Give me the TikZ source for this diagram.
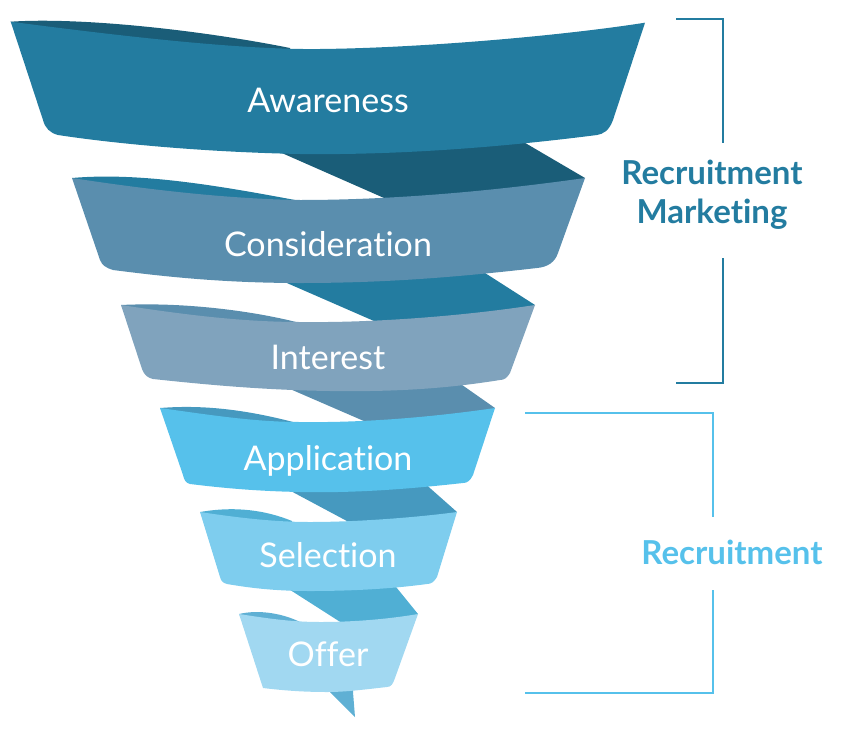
\documentclass[tikz,border=0pt]{standalone}
\usepackage{fontspec}
\setmainfont{Lato}[Ligatures={NoCommon,NoContextual}]
\usepackage{tikz}
\usetikzlibrary{positioning}
\definecolor{awarenesscolor}{RGB}{35, 124, 160}
\definecolor{awarenessback}{RGB}{26, 93, 120}
\definecolor{considercolor}{RGB}{90, 142, 174}
\definecolor{interestcolor}{RGB}{128, 163, 189}
\definecolor{applycolor}{RGB}{86, 193, 235}
\definecolor{applyback}{RGB}{70, 153, 191}
\definecolor{selectcolor}{RGB}{126, 205, 238}
\definecolor{selectback}{RGB}{80, 175, 212}
\definecolor{offercolor}{RGB}{161, 216, 241}
\definecolor{offerback}{RGB}{95, 176, 212}

\begin{document}
\begin{tikzpicture}[
    x=1pt, y=-1pt,
    label/.style={text=white, font=\fontsize{34}{40}\selectfont, anchor=base},
    heading/.style={font=\fontsize{33}{40}\selectfont\bfseries, anchor=base},
    bracket/.style={line width=2pt},
]
    \useasboundingbox (0,0) rectangle (845,736);

    % Back of the ribbon: connectors
    \fill[awarenessback] (275,150) -- (400,205) -- (560,200) -- (585,178) -- (515,137) -- cycle;
    \fill[awarenesscolor] (280,280) -- (390,328) -- (515,320) -- (535,305) -- (485,273) -- cycle;
    \fill[considercolor] (290,389) -- (380,428) -- (475,420) -- (495,408) -- (455,380) -- cycle;
    \fill[applyback] (287,489) -- (360,528) -- (440,522) -- (457,512) -- (422,481) -- cycle;
    \fill[selectback] (284,586) -- (345,625) -- (410,622) -- (418,614) -- (392,582) -- cycle;
    \fill[offerback] (328,685) -- (330,692) .. controls (340,702) and (348,710) .. (355,717) -- (353,692) -- (353,685) -- cycle;

    % Back of the ribbon: slivers
    \fill[awarenessback] (10.7,21.7) .. controls (80,17) and (200,30) .. (290,48) -- (290,60) -- (25,40) -- cycle;
    \fill[awarenesscolor] (72,178) .. controls (140,172) and (220,186) .. (295,200) -- (295,210) -- (85,195) -- cycle;
    \fill[considercolor] (121,305) .. controls (180,302) and (250,310) .. (300,323) -- (300,332) -- (132,322) -- cycle;
    \fill[applyback] (160,408) .. controls (210,404) and (255,412) .. (297,423) -- (297,432) -- (170,425) -- cycle;
    \fill[selectback] (200,512) .. controls (235,506) and (265,510) .. (292,521) -- (292,530) -- (210,528) -- cycle;
    \fill[offerback] (239,614) .. controls (260,609) and (285,614) .. (302,623) -- (302,632) -- (248,630) -- cycle;

    % Front faces
    \fill[awarenesscolor] (10.7,21.7) .. controls (120,36) and (240,50) .. (320,49)
        .. controls (420,48) and (560,36) .. (645,22.7) -- (613,120)
        .. controls (609,131) and (603,134) .. (597,135)
        .. controls (480,150) and (380,155) .. (300,154)
        .. controls (200,152) and (110,143) .. (58,135)
        .. controls (50,133) and (45,128) .. (43,120) -- cycle;
    \fill[considercolor] (72,178) .. controls (150,190) and (230,199) .. (300,200)
        .. controls (400,200) and (500,190) .. (585,178) -- (558,253)
        .. controls (555,262) and (548,267) .. (537,268)
        .. controls (450,278) and (380,283) .. (300,283)
        .. controls (220,283) and (160,276) .. (113,270)
        .. controls (106,268) and (102,265) .. (100,260) -- cycle;
    \fill[interestcolor] (121,305) .. controls (180,314) and (240,322) .. (300,322)
        .. controls (380,323) and (470,315) .. (535,305) -- (510,373)
        .. controls (507,378) and (504,380) .. (500,380)
        .. controls (450,388) and (400,392) .. (330,391)
        .. controls (260,390) and (200,384) .. (153,379)
        .. controls (148,378) and (144,375) .. (142,369) -- cycle;
    \fill[applycolor] (160,408) .. controls (210,415) and (255,422) .. (300,422)
        .. controls (370,423) and (440,416) .. (495,408) -- (473,475)
        .. controls (470,481) and (467,483) .. (463,483)
        .. controls (400,490) and (350,493) .. (300,492)
        .. controls (250,491) and (215,487) .. (190,484)
        .. controls (186,483) and (184,480) .. (183,475) -- cycle;
    \fill[selectcolor] (200,512) .. controls (240,518) and (275,522) .. (310,522)
        .. controls (360,522) and (420,517) .. (457,512) -- (437,577)
        .. controls (434,582) and (431,584) .. (427,584)
        .. controls (390,589) and (350,591) .. (310,591)
        .. controls (270,591) and (245,587) .. (227,584)
        .. controls (223,583) and (221,581) .. (220,577) -- cycle;
    \fill[offercolor] (239,614) .. controls (265,618) and (290,622) .. (320,622)
        .. controls (360,622) and (395,618) .. (418,614) -- (395,678)
        .. controls (393,684) and (391,687) .. (387,687)
        .. controls (360,690) and (345,692) .. (327,692)
        .. controls (300,692) and (280,690) .. (263,688) -- cycle;

    % Stage labels
    \node[label] (awareness) at (328,112) {Awareness};
    \node[label] (consideration) at (328,256) {Consideration};
    \node[label] (interest) at (328,369) {Interest};
    \node[label] (application) at (328,470) {Application};
    \node[label] (selection) at (328,567) {Selection};
    \node[label] (offer) at (328,666) {Offer};

    % Group labels
    \node[heading, text=awarenesscolor] (marketing1) at (712,184) {Recruitment};
    \node[heading, text=awarenesscolor] (marketing2) at (712,223) {Marketing};
    \node[heading, text=applycolor] (recruitment) at (732,564) {Recruitment};

    % Brackets
    \coordinate (mtop) at (676,19);
    \coordinate (mtopcorner) at (723,19);
    \coordinate (mupper) at (723,143);
    \coordinate (mlower) at (723,258);
    \coordinate (mbotcorner) at (723,383);
    \coordinate (mbot) at (676,383);
    \draw[bracket, awarenesscolor] (mtop) -- (mtopcorner) -- (mupper);
    \draw[bracket, awarenesscolor] (mlower) -- (mbotcorner) -- (mbot);

    \coordinate (rtop) at (525,413);
    \coordinate (rtopcorner) at (713,413);
    \coordinate (rupper) at (713,517);
    \coordinate (rlower) at (713,590);
    \coordinate (rbotcorner) at (713,693);
    \coordinate (rbot) at (525,693);
    \draw[bracket, applycolor] (rtop) -- (rtopcorner) -- (rupper);
    \draw[bracket, applycolor] (rlower) -- (rbotcorner) -- (rbot);

\end{tikzpicture}
\end{document}
